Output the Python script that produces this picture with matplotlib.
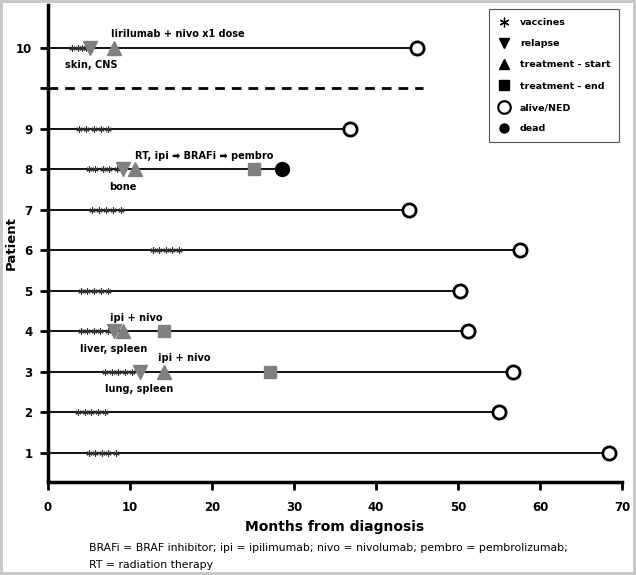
import numpy as np
import matplotlib.pyplot as plt
from matplotlib.lines import Line2D

plt.rcParams['font.family'] = ['DejaVu Sans']

# row position on the y axis for each patient (patient 10 sits above the dashed line)
patients = ['1', '2', '3', '4', '5', '6', '7', '8', '9', '10']
ypos = [1, 2, 3, 4, 5, 6, 7, 8, 9, 11]
end_month = [68.4, 55.0, 56.7, 51.2, 50.2, 57.6, 44.0, 28.6, 36.9, 45.0]
dead = [False, False, False, False, False, False, False, True, False, False]

vaccines = [
    [5.0, 5.8, 6.6, 7.4, 8.3],
    [3.7, 4.5, 5.3, 6.1, 7.0],
    [7.0, 7.8, 8.6, 9.4, 10.3],
    [4.0, 4.8, 5.6, 6.4, 7.3],
    [4.0, 4.8, 5.6, 6.5, 7.4],
    [12.8, 13.6, 14.4, 15.2, 16.0],
    [5.4, 6.3, 7.1, 8.0, 8.9],
    [5.0, 5.8, 6.7, 7.5, 8.4],
    [3.8, 4.7, 5.6, 6.5, 7.4],
    [3.0, 3.7, 4.2, 4.7],
]

# relapse / treatment events: (patient row, month)
relapse = [(3, 11.2), (4, 8.1), (8, 9.2), (11, 5.2)]
treat_start = [(3, 14.2), (4, 9.2), (8, 10.7), (11, 8.1)]
treat_end = [(3, 27.1), (4, 14.2), (8, 25.2)]

# annotations: (row, centre month, text, above?)
notes = [
    (11, 15.9, 'lirilumab + nivo x1 dose', True),
    (11, 5.3, 'skin, CNS', False),
    (8, 19.1, 'RT, ipi \u27a1 BRAFi \u27a1 pembro', True),
    (8, 9.1, 'bone', False),
    (4, 10.8, 'ipi + nivo', True),
    (4, 8.0, 'liver, spleen', False),
    (3, 16.7, 'ipi + nivo', True),
    (3, 11.1, 'lung, spleen', False),
]

gray = '#808080'

fig = plt.figure(figsize=(6.36, 5.75), dpi=100)
fig.patch.set_edgecolor('#c8c8c8')
fig.patch.set_linewidth(3)
ax = fig.add_axes([0.075, 0.162, 0.903, 0.829])

for y, e, d, vac in zip(ypos, end_month, dead, vaccines):
    ax.plot([0, e], [y, y], color='black', lw=1.3, zorder=1)
    ax.plot(vac, [y] * len(vac), linestyle='none', marker=(6, 2, 0),
            color='#333333', markersize=4.5, markeredgewidth=0.8, zorder=3)
    if d:
        ax.plot(e, y, 'o', color='black', markersize=10, zorder=4)
    else:
        ax.plot(e, y, 'o', markerfacecolor='white', markeredgecolor='black',
                markersize=9.5, markeredgewidth=2, zorder=4)

ax.plot([r[1] for r in relapse], [r[0] for r in relapse], 'v', color=gray,
        markersize=9.5, linestyle='none', zorder=3)
ax.plot([r[1] for r in treat_start], [r[0] for r in treat_start], '^', color=gray,
        markersize=9.5, linestyle='none', zorder=3)
ax.plot([r[1] for r in treat_end], [r[0] for r in treat_end], 's', color=gray,
        markersize=9, linestyle='none', zorder=3)

# separator between patient 9 and 10
ax.plot([0, 45.7], [10, 10], color='black', lw=2, linestyle=(0, (3.5, 2.5)))

for y, x, txt, above in notes:
    dy = 0.33 if above else -0.43
    ax.text(x, y + dy, txt, fontsize=7, fontweight='bold', va='center', ha='center')

ax.set_xlim(0, 70)
ax.set_ylim(0.28, 12.05)
ax.set_xticks(np.arange(0, 71, 10))
ax.set_yticks([1, 2, 3, 4, 5, 6, 7, 8, 9, 10, 11])
ax.set_yticklabels(['1', '2', '3', '4', '5', '6', '7', '8', '9', '', '10'])
for s in ['top', 'right']:
    ax.spines[s].set_visible(False)
for s in ['left', 'bottom']:
    ax.spines[s].set_linewidth(2.5)
ax.tick_params(width=2, length=6, labelsize=8.5)
ax.tick_params(axis='x', pad=8)
ax.tick_params(axis='y', pad=5)
for lab in ax.get_xticklabels() + ax.get_yticklabels():
    lab.set_fontweight('bold')
ax.set_xlabel('Months from diagnosis', fontsize=10, fontweight='bold', labelpad=4)
ax.set_ylabel('Patient', fontsize=9.5, fontweight='bold')
ax.yaxis.set_label_coords(-0.052, 0.5)

handles = [
    Line2D([], [], linestyle='none', marker=(6, 2, 0), color='black', markersize=7, markeredgewidth=0.9),
    Line2D([], [], linestyle='none', marker='v', color='black', markersize=7),
    Line2D([], [], linestyle='none', marker='^', color='black', markersize=7),
    Line2D([], [], linestyle='none', marker='s', color='black', markersize=7),
    Line2D([], [], linestyle='none', marker='o', markerfacecolor='white', markeredgecolor='black',
           markersize=9, markeredgewidth=1.6),
    Line2D([], [], linestyle='none', marker='o', color='black', markersize=6.5),
]
labels = ['vaccines', 'relapse', 'treatment - start', 'treatment - end', 'alive/NED', 'dead']
leg = ax.legend(handles, labels, loc='upper right', bbox_to_anchor=(1.0, 0.997),
                fancybox=False, framealpha=1, edgecolor='#555555',
                prop={'size': 6.8, 'weight': 'bold'}, labelspacing=1.3,
                handletextpad=0.9, borderpad=0.9, handlelength=1.5, borderaxespad=0.3)
leg.get_frame().set_linewidth(0.8)

fig.text(0.14, 0.047, 'BRAFi = BRAF inhibitor; ipi = ipilimumab; nivo = nivolumab; pembro = pembrolizumab;',
         fontsize=7.8, va='center')
fig.text(0.14, 0.018, 'RT = radiation therapy', fontsize=7.8, va='center')

plt.savefig('out.png', dpi=100)
